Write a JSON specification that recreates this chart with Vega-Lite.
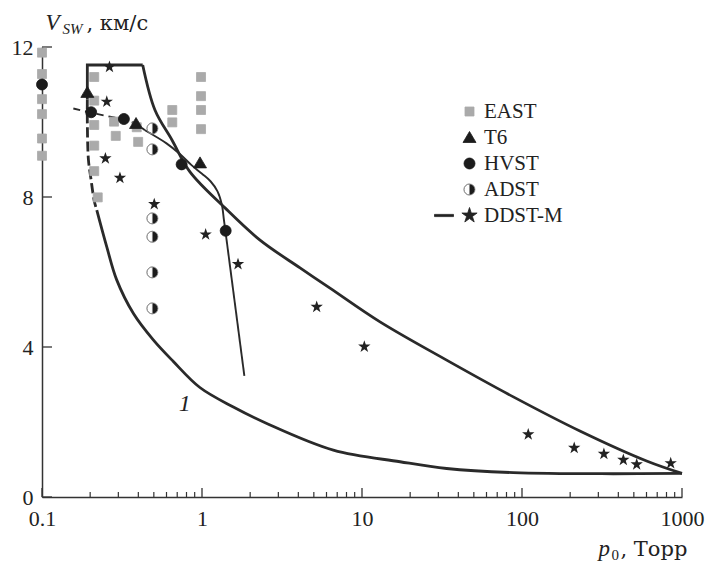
{
  "$schema": "https://vega.github.io/schema/vega-lite/v6.json",
  "width": 640,
  "height": 450,
  "autosize": {"type": "none"},
  "padding": {"left": 42, "top": 47, "right": 26, "bottom": 66},
  "background": "white",
  "config": {
    "view": {"stroke": null},
    "font": "Liberation Serif",
    "axis": {"labelFont": "Liberation Serif", "titleFont": "Liberation Serif", "labelColor": "#222", "titleColor": "#222", "domainColor": "#333", "tickColor": "#333", "labelFlush": false, "labelOverlap": false, "titleFontWeight": "normal", "grid": false}
  },
  "datasets": {
    "curves": [
      {"s": "c1top", "i": 0, "x": 0.192, "y": 10.6},
      {"s": "c1top", "i": 1, "x": 0.192, "y": 11.52},
      {"s": "c1top", "i": 2, "x": 0.426, "y": 11.52},
      {"s": "c1up", "i": 0, "x": 0.426, "y": 11.52},
      {"s": "c1up", "i": 1, "x": 0.508, "y": 10.32},
      {"s": "c1up", "i": 2, "x": 0.649, "y": 9.52},
      {"s": "c1up", "i": 3, "x": 0.841, "y": 8.67},
      {"s": "c1up", "i": 4, "x": 1.392, "y": 7.71},
      {"s": "c1up", "i": 5, "x": 2.305, "y": 6.85},
      {"s": "c1up", "i": 6, "x": 4.1, "y": 6.11},
      {"s": "c1up", "i": 7, "x": 6.31, "y": 5.57},
      {"s": "c1up", "i": 8, "x": 12.96, "y": 4.67},
      {"s": "c1up", "i": 9, "x": 33.8, "y": 3.65},
      {"s": "c1up", "i": 10, "x": 88.3, "y": 2.67},
      {"s": "c1up", "i": 11, "x": 230, "y": 1.76},
      {"s": "c1up", "i": 12, "x": 601, "y": 0.96},
      {"s": "c1up", "i": 13, "x": 1000, "y": 0.63},
      {"s": "c1low", "i": 0, "x": 0.22, "y": 7.65},
      {"s": "c1low", "i": 1, "x": 0.254, "y": 6.67},
      {"s": "c1low", "i": 2, "x": 0.293, "y": 5.79},
      {"s": "c1low", "i": 3, "x": 0.372, "y": 4.9},
      {"s": "c1low", "i": 4, "x": 0.496, "y": 4.19},
      {"s": "c1low", "i": 5, "x": 0.66, "y": 3.62},
      {"s": "c1low", "i": 6, "x": 0.97, "y": 2.92},
      {"s": "c1low", "i": 7, "x": 1.57, "y": 2.4},
      {"s": "c1low", "i": 8, "x": 2.54, "y": 1.96},
      {"s": "c1low", "i": 9, "x": 6.62, "y": 1.25},
      {"s": "c1low", "i": 10, "x": 17.3, "y": 0.94},
      {"s": "c1low", "i": 11, "x": 33.8, "y": 0.76},
      {"s": "c1low", "i": 12, "x": 88.3, "y": 0.65},
      {"s": "c1low", "i": 13, "x": 372, "y": 0.62},
      {"s": "c1low", "i": 14, "x": 1000, "y": 0.63},
      {"s": "c1dash", "i": 0, "x": 0.192, "y": 10.6},
      {"s": "c1dash", "i": 1, "x": 0.192, "y": 10.0},
      {"s": "c1dash", "i": 2, "x": 0.195, "y": 9.0},
      {"s": "c1dash", "i": 3, "x": 0.202, "y": 8.5},
      {"s": "c1dash", "i": 4, "x": 0.212, "y": 7.9},
      {"s": "c1dash", "i": 5, "x": 0.22, "y": 7.65},
      {"s": "dddash", "i": 0, "x": 0.157, "y": 10.36},
      {"s": "dddash", "i": 1, "x": 0.201, "y": 10.25},
      {"s": "dddash", "i": 2, "x": 0.322, "y": 10.07},
      {"s": "dddash", "i": 3, "x": 0.39, "y": 9.95},
      {"s": "dddash", "i": 4, "x": 0.44, "y": 9.78},
      {"s": "ddsolid", "i": 0, "x": 0.44, "y": 9.78},
      {"s": "ddsolid", "i": 1, "x": 0.6, "y": 9.43},
      {"s": "ddsolid", "i": 2, "x": 0.73, "y": 9.14},
      {"s": "ddsolid", "i": 3, "x": 0.86, "y": 8.85},
      {"s": "ddsolid", "i": 4, "x": 1.0, "y": 8.62},
      {"s": "ddsolid", "i": 5, "x": 1.13, "y": 8.42},
      {"s": "ddsolid", "i": 6, "x": 1.25, "y": 8.15},
      {"s": "ddsolid", "i": 7, "x": 1.33, "y": 7.8},
      {"s": "ddsolid", "i": 8, "x": 1.37, "y": 7.4},
      {"s": "ddsolid", "i": 9, "x": 1.4, "y": 7.1},
      {"s": "ddstraight", "i": 0, "x": 1.4, "y": 7.1},
      {"s": "ddstraight", "i": 1, "x": 1.84, "y": 3.23}
    ],
    "pts": [
      {"src": "EAST", "x": 0.1, "y": 11.85},
      {"src": "EAST", "x": 0.1, "y": 11.28},
      {"src": "EAST", "x": 0.1, "y": 10.61},
      {"src": "EAST", "x": 0.1, "y": 10.21},
      {"src": "EAST", "x": 0.1, "y": 9.56},
      {"src": "EAST", "x": 0.1, "y": 9.1},
      {"src": "EAST", "x": 0.212, "y": 11.2},
      {"src": "EAST", "x": 0.212, "y": 10.57},
      {"src": "EAST", "x": 0.212, "y": 9.92},
      {"src": "EAST", "x": 0.212, "y": 9.37},
      {"src": "EAST", "x": 0.212, "y": 8.69},
      {"src": "EAST", "x": 0.223, "y": 7.99},
      {"src": "EAST", "x": 0.282, "y": 10.01},
      {"src": "EAST", "x": 0.289, "y": 9.63},
      {"src": "EAST", "x": 0.391, "y": 9.86},
      {"src": "EAST", "x": 0.399, "y": 9.47},
      {"src": "EAST", "x": 0.652, "y": 10.32},
      {"src": "EAST", "x": 0.652, "y": 9.99},
      {"src": "EAST", "x": 0.986, "y": 11.2},
      {"src": "EAST", "x": 0.986, "y": 10.69},
      {"src": "EAST", "x": 0.986, "y": 10.32},
      {"src": "EAST", "x": 0.986, "y": 9.81},
      {"src": "T6", "x": 0.192, "y": 10.79},
      {"src": "T6", "x": 0.387, "y": 9.96},
      {"src": "T6", "x": 0.972, "y": 8.91},
      {"src": "HVST", "x": 0.1, "y": 11.0},
      {"src": "HVST", "x": 0.203, "y": 10.26},
      {"src": "HVST", "x": 0.325, "y": 10.08},
      {"src": "HVST", "x": 0.746, "y": 8.87},
      {"src": "HVST", "x": 1.406, "y": 7.1},
      {"src": "ADST", "x": 0.49, "y": 9.83},
      {"src": "ADST", "x": 0.49, "y": 9.27},
      {"src": "ADST", "x": 0.49, "y": 7.43},
      {"src": "ADST", "x": 0.49, "y": 6.94},
      {"src": "ADST", "x": 0.49, "y": 5.99},
      {"src": "ADST", "x": 0.49, "y": 5.03}
    ],
    "stars": [
      {"x": 0.264, "y": 11.47},
      {"x": 0.254, "y": 10.54},
      {"x": 0.249, "y": 9.03},
      {"x": 0.307, "y": 8.51},
      {"x": 0.503, "y": 7.81},
      {"x": 1.054, "y": 7.0},
      {"x": 1.679, "y": 6.21},
      {"x": 5.21, "y": 5.07},
      {"x": 10.34, "y": 4.01},
      {"x": 109.4, "y": 1.67},
      {"x": 212, "y": 1.31},
      {"x": 325, "y": 1.15},
      {"x": 430, "y": 0.99},
      {"x": 521, "y": 0.87},
      {"x": 850, "y": 0.9}
    ],
    "xmajor": [{"v": 0.1}, {"v": 1}, {"v": 10}, {"v": 100}, {"v": 1000}],
    "xminor": [{"v": 0.2}, {"v": 0.3}, {"v": 0.4}, {"v": 0.5}, {"v": 0.6}, {"v": 0.7}, {"v": 0.8}, {"v": 0.9},
      {"v": 2}, {"v": 3}, {"v": 4}, {"v": 5}, {"v": 6}, {"v": 7}, {"v": 8}, {"v": 9},
      {"v": 20}, {"v": 30}, {"v": 40}, {"v": 50}, {"v": 60}, {"v": 70}, {"v": 80}, {"v": 90},
      {"v": 200}, {"v": 300}, {"v": 400}, {"v": 500}, {"v": 600}, {"v": 700}, {"v": 800}, {"v": 900}],
    "ymajor": [{"v": 0}, {"v": 4}, {"v": 8}, {"v": 12}],
    "lbl": [
      {"x": 0.78, "y": 2.47, "t": "1"}
    ]
  },
  "resolve": {"axis": {"x": "independent", "y": "independent"}},
  "layer": [
    {
      "data": {"name": "curves"},
      "transform": [{"filter": "datum.s === 'c1top'"}],
      "mark": {"type": "line", "color": "#2a2a2a", "strokeWidth": 2.8, "interpolate": "linear"},
      "encoding": {
        "x": {"field": "x", "type": "quantitative", "scale": {"type": "log", "domain": [0.1, 1000], "nice": false},
          "axis": {"orient": "bottom", "values": [0.1, 1, 10, 100, 1000], "format": "~g", "ticks": false, "labelPadding": 11, "labelFontSize": 22, "domainWidth": 1.5,
            "title": "p", "titleFontStyle": "italic", "titleFontSize": 23, "titleX": 556, "titleY": 58, "titleAlign": "left", "titleBaseline": "alphabetic"}},
        "y": {"field": "y", "type": "quantitative", "scale": {"domain": [0, 12], "nice": false, "zero": false},
          "axis": {"orient": "left", "values": [0, 4, 8, 12], "format": "d", "ticks": false, "labelPadding": 9, "labelFontSize": 22, "domainWidth": 1.5,
            "title": "V", "titleFontStyle": "italic", "titleFontSize": 23, "titleAngle": 0, "titleX": 3, "titleY": -18, "titleAlign": "left", "titleBaseline": "alphabetic"}},
        "order": {"field": "i", "type": "quantitative"}
      }
    },
    {
      "data": {"name": "curves"},
      "transform": [{"filter": "datum.s === 'c1up' || datum.s === 'c1low'"}],
      "mark": {"type": "line", "color": "#2a2a2a", "strokeWidth": 2.8, "interpolate": "catmull-rom"},
      "encoding": {
        "x": {"field": "x", "type": "quantitative", "scale": {"type": "log", "domain": [0.1, 1000], "nice": false},
          "axis": {"orient": "bottom", "labels": false, "domain": false, "ticks": false,
            "title": "0", "titleFontSize": 15, "titleX": 569, "titleY": 62, "titleAlign": "left", "titleBaseline": "alphabetic"}},
        "y": {"field": "y", "type": "quantitative", "scale": {"domain": [0, 12], "nice": false, "zero": false},
          "axis": {"orient": "left", "labels": false, "domain": false, "ticks": false,
            "title": "SW", "titleFontStyle": "italic", "titleFontSize": 15, "titleAngle": 0, "titleX": 20, "titleY": -14, "titleAlign": "left", "titleBaseline": "alphabetic"}},
        "detail": {"field": "s"},
        "order": {"field": "i", "type": "quantitative"}
      }
    },
    {
      "data": {"name": "curves"},
      "transform": [{"filter": "datum.s === 'c1dash'"}],
      "mark": {"type": "line", "color": "#2a2a2a", "strokeWidth": 2.8, "interpolate": "catmull-rom", "strokeDash": [10, 4]},
      "encoding": {
        "x": {"field": "x", "type": "quantitative", "scale": {"type": "log", "domain": [0.1, 1000], "nice": false},
          "axis": {"orient": "bottom", "labels": false, "domain": false, "ticks": false,
            "title": ", Торр", "titleFont": "DejaVu Serif", "titleFontSize": 21, "titleX": 578, "titleY": 58, "titleAlign": "left", "titleBaseline": "alphabetic"}},
        "y": {"field": "y", "type": "quantitative", "scale": {"domain": [0, 12], "nice": false, "zero": false},
          "axis": {"orient": "left", "labels": false, "ticks": false, "domain": false,
            "title": ", км/с", "titleFont": "DejaVu Serif", "titleFontSize": 21, "titleAngle": 0, "titleX": 44, "titleY": -18, "titleAlign": "left", "titleBaseline": "alphabetic"}},
        "order": {"field": "i", "type": "quantitative"}
      }
    },
    {
      "data": {"name": "curves"},
      "transform": [{"filter": "datum.s === 'dddash'"}],
      "mark": {"type": "line", "color": "#2a2a2a", "strokeWidth": 1.9, "interpolate": "linear", "strokeDash": [7, 5]},
      "encoding": {
        "x": {"field": "x", "type": "quantitative", "scale": {"type": "log", "domain": [0.1, 1000], "nice": false}, "axis": null},
        "y": {"field": "y", "type": "quantitative", "scale": {"domain": [0, 12], "nice": false, "zero": false}, "axis": null},
        "order": {"field": "i", "type": "quantitative"}
      }
    },
    {
      "data": {"name": "curves"},
      "transform": [{"filter": "datum.s === 'ddsolid'"}],
      "mark": {"type": "line", "color": "#2a2a2a", "strokeWidth": 1.9, "interpolate": "catmull-rom"},
      "encoding": {
        "x": {"field": "x", "type": "quantitative", "scale": {"type": "log", "domain": [0.1, 1000], "nice": false}, "axis": null},
        "y": {"field": "y", "type": "quantitative", "scale": {"domain": [0, 12], "nice": false, "zero": false}, "axis": null},
        "order": {"field": "i", "type": "quantitative"}
      }
    },
    {
      "data": {"name": "curves"},
      "transform": [{"filter": "datum.s === 'ddstraight'"}],
      "mark": {"type": "line", "color": "#2a2a2a", "strokeWidth": 1.9, "interpolate": "linear"},
      "encoding": {
        "x": {"field": "x", "type": "quantitative", "scale": {"type": "log", "domain": [0.1, 1000], "nice": false}, "axis": null},
        "y": {"field": "y", "type": "quantitative", "scale": {"domain": [0, 12], "nice": false, "zero": false}, "axis": null},
        "order": {"field": "i", "type": "quantitative"}
      }
    },
    {
      "data": {"name": "xmajor"},
      "mark": {"type": "tick", "orient": "vertical", "size": 9, "thickness": 1.3, "color": "#333333", "opacity": 1, "yOffset": -4.5},
      "encoding": {
        "x": {"field": "v", "type": "quantitative", "scale": {"type": "log", "domain": [0.1, 1000], "nice": false}, "axis": null},
        "y": {"datum": 0, "type": "quantitative", "scale": {"domain": [0, 12], "nice": false, "zero": false}, "axis": null}
      }
    },
    {
      "data": {"name": "xminor"},
      "mark": {"type": "tick", "orient": "vertical", "size": 5, "thickness": 1.2, "color": "#333333", "opacity": 1, "yOffset": -2.5},
      "encoding": {
        "x": {"field": "v", "type": "quantitative", "scale": {"type": "log", "domain": [0.1, 1000], "nice": false}, "axis": null},
        "y": {"datum": 0, "type": "quantitative", "scale": {"domain": [0, 12], "nice": false, "zero": false}, "axis": null}
      }
    },
    {
      "data": {"name": "ymajor"},
      "mark": {"type": "tick", "orient": "horizontal", "size": 10, "thickness": 1.3, "color": "#333333", "opacity": 1, "xOffset": 5},
      "encoding": {
        "y": {"field": "v", "type": "quantitative", "scale": {"domain": [0, 12], "nice": false, "zero": false}, "axis": null},
        "x": {"datum": 0.1, "type": "quantitative", "scale": {"type": "log", "domain": [0.1, 1000], "nice": false}, "axis": null}
      }
    },
    {
      "data": {"name": "pts"},
      "mark": {"type": "point", "filled": true, "opacity": 1, "size": 100, "strokeWidth": 0.8},
      "encoding": {
        "x": {"field": "x", "type": "quantitative", "scale": {"type": "log", "domain": [0.1, 1000], "nice": false}, "axis": null},
        "y": {"field": "y", "type": "quantitative", "scale": {"domain": [0, 12], "nice": false, "zero": false}, "axis": null},
        "shape": {"field": "src", "type": "nominal",
          "scale": {"domain": ["EAST", "T6", "HVST", "ADST", "DDST-M"],
            "range": [
              "M-0.9,-0.9L0.9,-0.9L0.9,0.9L-0.9,0.9Z",
              "M0,-1.2L1.3,1L-1.3,1Z",
              "M0,-1.1A1.1,1.1 0 1,1 0,1.1A1.1,1.1 0 1,1 0,-1.1Z",
              "M0,-1.1A1.1,1.1 0 1,1 0,1.1A1.1,1.1 0 1,1 0,-1.1Z M0,-1.1A1.1,1.1 0 0,0 0,1.1Z",
              "M0,-1.6L0.359,-0.494L1.522,-0.494L0.58,0.189L0.94,1.294L0,0.61L-0.94,1.294L-0.58,0.189L-1.522,-0.494L-0.359,-0.494Z M-7,-0.22L-3.2,-0.22L-3.2,0.22L-7,0.22Z"
            ]},
          "legend": {"orient": "none", "legendX": 417, "legendY": 54, "title": null, "padding": 0, "labelFont": "Liberation Serif", "labelFontSize": 21, "labelColor": "#222", "symbolSize": 100, "rowPadding": 4, "labelOffset": 4, "symbolStrokeWidth": 0.8, "symbolOpacity": 1}},
        "fill": {"field": "src", "type": "nominal",
          "scale": {"domain": ["EAST", "T6", "HVST", "ADST", "DDST-M"], "range": ["#aaaaaa", "#1c1c1c", "#1c1c1c", "#1c1c1c", "#222222"]},
          "legend": {"orient": "none", "legendX": 417, "legendY": 54, "title": null, "padding": 0, "labelFont": "Liberation Serif", "labelFontSize": 21, "labelColor": "#222", "symbolSize": 100, "rowPadding": 4, "labelOffset": 4, "symbolStrokeWidth": 0.8, "symbolOpacity": 1}},
        "stroke": {"field": "src", "type": "nominal",
          "scale": {"domain": ["EAST", "T6", "HVST", "ADST", "DDST-M"], "range": ["#aaaaaa", "#1c1c1c", "#1c1c1c", "#8a8a8a", "#222222"]},
          "legend": {"orient": "none", "legendX": 417, "legendY": 54, "title": null, "padding": 0, "labelFont": "Liberation Serif", "labelFontSize": 21, "labelColor": "#222", "symbolSize": 100, "rowPadding": 4, "labelOffset": 4, "symbolStrokeWidth": 0.8, "symbolOpacity": 1}}
      }
    },
    {
      "data": {"name": "stars"},
      "mark": {"type": "point", "filled": true, "opacity": 1, "size": 100, "color": "#222222",
        "shape": "M0,-1.3L0.294,-0.405L1.236,-0.402L0.476,0.155L0.764,1.052L0,0.5L-0.764,1.052L-0.476,0.155L-1.236,-0.402L-0.294,-0.405Z"},
      "encoding": {
        "x": {"field": "x", "type": "quantitative", "scale": {"type": "log", "domain": [0.1, 1000], "nice": false}, "axis": null},
        "y": {"field": "y", "type": "quantitative", "scale": {"domain": [0, 12], "nice": false, "zero": false}, "axis": null}
      }
    },
    {
      "data": {"name": "lbl"},
      "mark": {"type": "text", "font": "Liberation Serif", "fontStyle": "italic", "fontSize": 24, "color": "#222", "align": "center", "baseline": "middle"},
      "encoding": {
        "x": {"field": "x", "type": "quantitative", "scale": {"type": "log", "domain": [0.1, 1000], "nice": false}, "axis": null},
        "y": {"field": "y", "type": "quantitative", "scale": {"domain": [0, 12], "nice": false, "zero": false}, "axis": null},
        "text": {"field": "t"}
      }
    }
  ]
}
